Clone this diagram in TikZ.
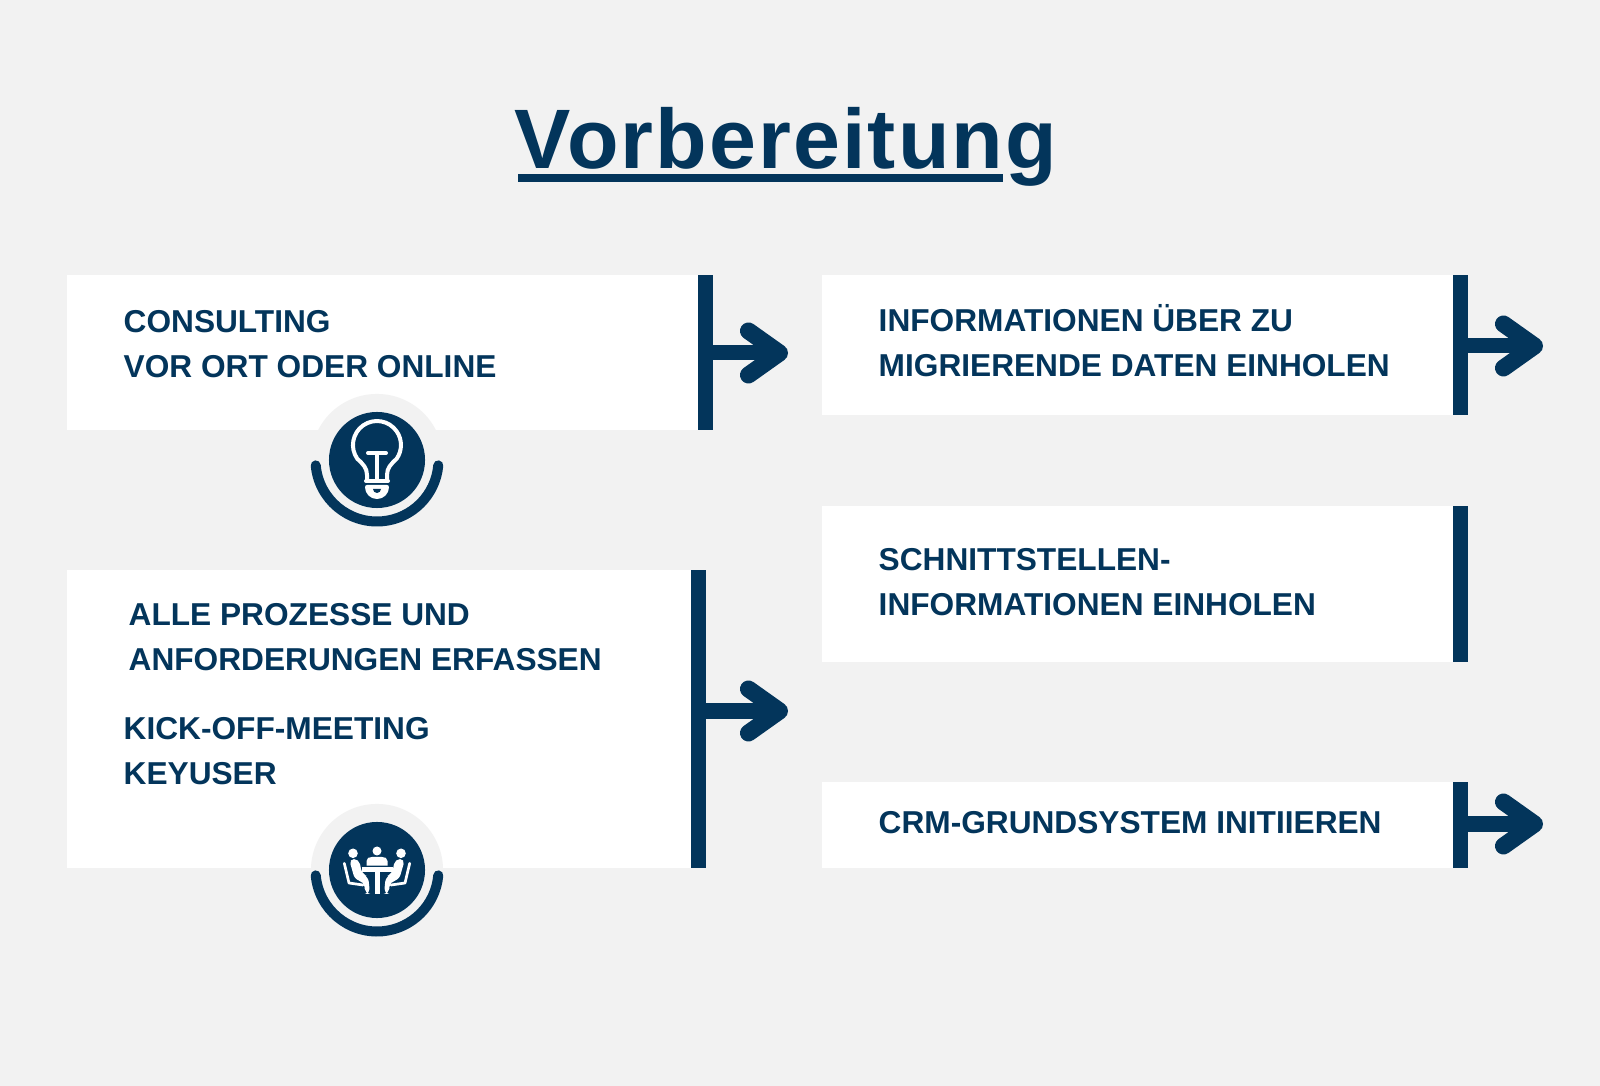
\documentclass[tikz,border=0pt]{standalone}
\usepackage{fontspec}
\usepackage{xcolor}
\usetikzlibrary{arrows.meta}
\setmainfont{Liberation Sans}
\newfontfamily\titlefont[LetterSpace=2.5]{Liberation Sans}
\definecolor{navy}{HTML}{03355B}
\definecolor{paper}{HTML}{F2F2F2}

\begin{document}
\begin{tikzpicture}[x=0.01cm, y=0.01cm,
		box/.style={fill=white, inner sep=0pt, anchor=north west},
		bar/.style={fill=navy, inner sep=0pt, minimum width=0.15cm, anchor=north west},
		label/.style={text=navy, inner sep=0pt, anchor=west, font=\fontsize{9}{12.8}\selectfont\bfseries},
		flow/.style={draw=navy, line width=0.15cm, -{Straight Barb[length=0.31cm, width=0.44cm, line width=0.17cm, round]}},
		halo/.style={fill=paper, inner sep=0pt, minimum size=1.32cm, circle},
		badge/.style={fill=navy, inner sep=0pt, minimum size=0.96cm, circle},
		cradle/.style={draw=navy, line width=0.1cm, line cap=round},
		icon/.style={draw=white, line width=0.04cm, line cap=round, line join=round}]
%		    \draw[help lines, step=100] (0,-1086) grid (1600,0);
			\fill[paper] (0,0) rectangle (1600,-1086);
			\node[text=navy, inner sep=0pt, anchor=base, font=\fontsize{24}{24}\selectfont\titlefont\bfseries] (title) at (786,-169) {Vorbereitung};
			\fill[navy] (518,-174) rectangle (1003,-182);
			% boxes on the left
			\node[box, minimum width=6.31cm, minimum height=1.55cm] (consulting) at (66,-274) {};
			\node[bar, minimum height=1.55cm] (consultingbar) at (697,-274) {};
			\node[box, minimum width=6.24cm, minimum height=2.98cm] (kickoff) at (66,-569) {};
			\node[bar, minimum height=2.98cm] (kickoffbar) at (690,-569) {};
			% boxes on the right
			\node[box, minimum width=6.31cm, minimum height=1.40cm] (infos) at (821,-274) {};
			\node[bar, minimum height=1.40cm] (infosbar) at (1452,-274) {};
			\node[box, minimum width=6.31cm, minimum height=1.56cm] (schnitt) at (821,-505) {};
			\node[bar, minimum height=1.56cm] (schnittbar) at (1452,-505) {};
			\node[box, minimum width=6.31cm, minimum height=0.86cm] (crm) at (821,-781) {};
			\node[bar, minimum height=0.86cm] (crmbar) at (1452,-781) {};
			% texts
			\node[label] (consultingtext) at (123,-346) {\begin{tabular}{@{}l@{}} CONSULTING \\ VOR ORT ODER ONLINE \end{tabular}};
			\node[label] (prozessetext) at (128,-639) {\begin{tabular}{@{}l@{}} ALLE PROZESSE UND \\ ANFORDERUNGEN ERFASSEN \end{tabular}};
			\node[label] (kickofftext) at (123,-753) {\begin{tabular}{@{}l@{}} KICK-OFF-MEETING \\ KEYUSER \end{tabular}};
			\node[label] (infostext) at (878,-345) {\begin{tabular}{@{}l@{}} INFORMATIONEN ÜBER ZU \\ MIGRIERENDE DATEN EINHOLEN \end{tabular}};
			\node[label] (schnitttext) at (878,-584) {\begin{tabular}{@{}l@{}} SCHNITTSTELLEN- \\ INFORMATIONEN EINHOLEN \end{tabular}};
			\node[label] (crmtext) at (878,-823) {CRM-GRUNDSYSTEM INITIIEREN};
			% arrows
			\coordinate (consultingtip) at (788,-353);
			\coordinate (kickofftip) at (788,-711);
			\coordinate (infostip) at (1543,-346);
			\coordinate (crmtip) at (1543,-824);
			\draw[flow] (consultingbar.east |- consultingtip) -- (consultingtip);
			\draw[flow] (kickoffbar.east |- kickofftip) -- (kickofftip);
			\draw[flow] (infosbar.east |- infostip) -- (infostip);
			\draw[flow] (crmbar.east |- crmtip) -- (crmtip);
			% lightbulb badge
			\node[halo] (bulbhalo) at (377,-460) {};
			\node[badge] (bulb) at (377,-460) {};
			\draw[cradle] (bulb.center) ++(-175:61.5) arc (-175:-5:61.5);
			\begin{scope}[shift={(377,-460)}]
				\draw[icon] (-10,-20) -- (-10,-15) .. controls (-10,-8) and (-14,-4) .. (-19.7,1.2) arc (215:-35:24) .. controls (14,-4) and (10,-8) .. (10,-15) -- (10,-20);
				\draw[icon] (-9,7) -- (9,7) (0,7) -- (0,-20);
				\draw[icon] (-11,-21) -- (11,-21);
				\draw[icon, fill=white] (-10,-27) -- (10,-27) arc (0:-180:10) -- cycle;
				\fill[navy] (-4,-29) -- (4,-29) arc (0:-180:4) -- cycle;
			\end{scope}
			% meeting badge
			\node[halo] (meethalo) at (377,-870) {};
			\node[badge] (meet) at (377,-870) {};
			\draw[cradle] (meet.center) ++(-175:61.5) arc (-175:-5:61.5);
			\begin{scope}[shift={(377,-870)}]
				\fill[white] (0,19) circle (4.5);
				\fill[white] (-10.5,4.3) -- (-10.5,9) .. controls (-10.5,12) and (-8,13) .. (-5,13) -- (5,13) .. controls (8,13) and (10.5,12) .. (10.5,9) -- (10.5,4.3) -- cycle;
				\fill[white] (-15.5,2.7) rectangle (15.5,-1.7);
				\fill[white] (-2.5,-1.7) rectangle (2.5,-24);
				\foreach \side in {-1,1} {
					\begin{scope}[xscale=\side]
						\fill[white] (24,16.7) circle (4.8);
						\fill[white, rounded corners=1.5] (28,11) -- (18,11) -- (15,-4) -- (8.7,-6.7) -- (7,-24) -- (12,-24) -- (12.7,-11.7) -- (22,-10) -- cycle;
						\draw[icon, line width=0.027cm] (32.7,6.7) -- (28,-13) -- (14,-15);
					\end{scope}
				}
			\end{scope}
		\end{tikzpicture}
\end{document}
